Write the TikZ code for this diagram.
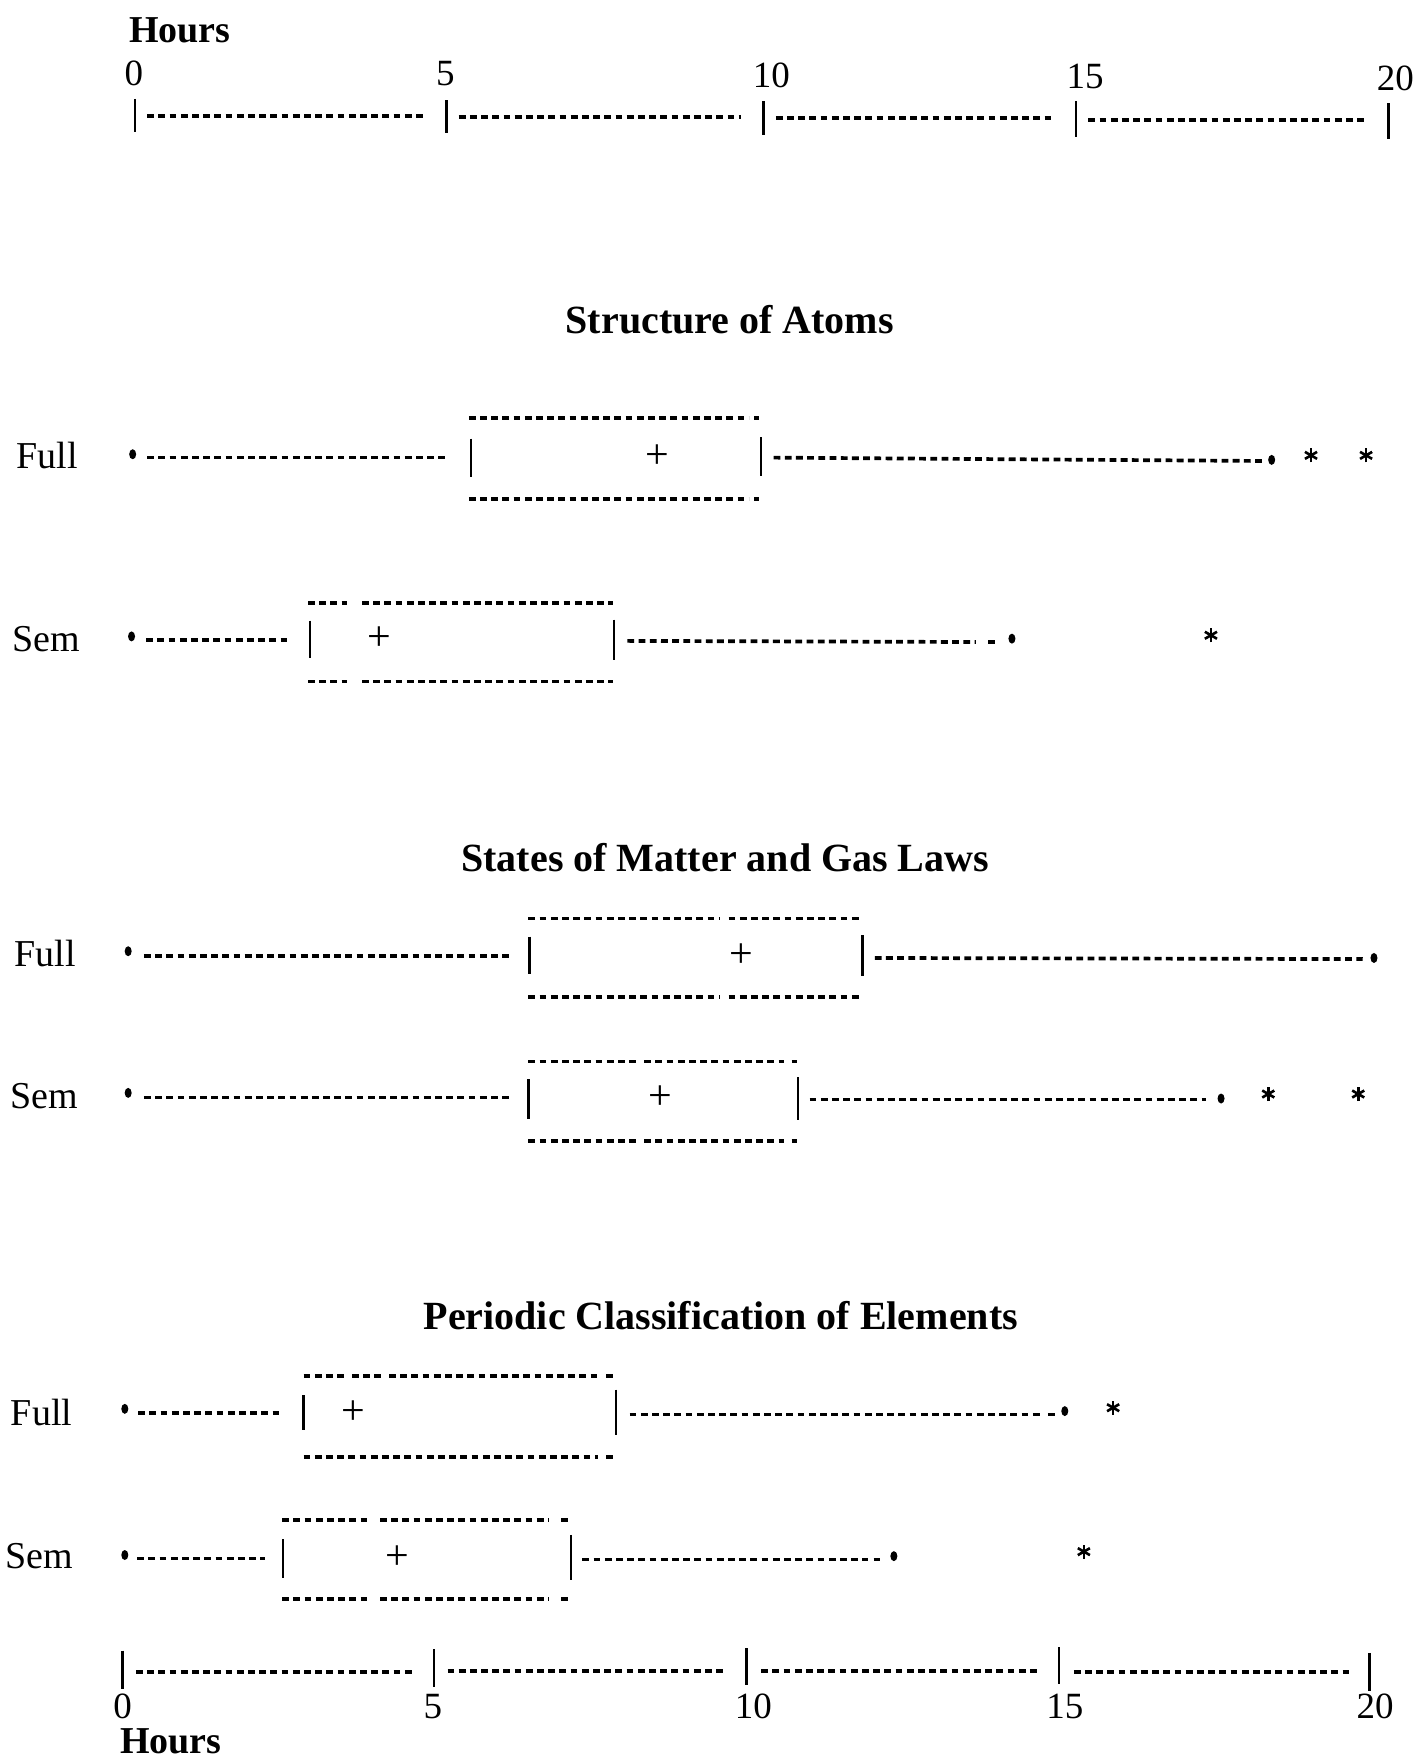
\documentclass[tikz,border=0pt]{standalone}
\usepackage{fontspec}
\setmainfont{Liberation Serif}
\usetikzlibrary{shapes.geometric}
\tikzset{
  dl/.style={line width=3.7pt, dash pattern=on 6.8pt off 4.4pt},
  bar/.style={line width=2.3pt},
  mdot/.style={ellipse, fill=black, minimum width=7pt, minimum height=10pt, inner sep=0pt},
  mstar/.style={circle, minimum size=15pt, inner sep=0pt,
    path picture={
      \draw[line width=2.6pt] ([yshift=-7pt]path picture bounding box.center) -- ([yshift=7pt]path picture bounding box.center);
      \draw[line width=2.6pt] ([shift={(30:7pt)}]path picture bounding box.center) -- ([shift={(210:7pt)}]path picture bounding box.center);
      \draw[line width=2.6pt] ([shift={(150:7pt)}]path picture bounding box.center) -- ([shift={(-30:7pt)}]path picture bounding box.center);
    }},
  mplus/.style={inner sep=0pt, font=\fontsize{42}{42}\selectfont},
  rowlab/.style={inner sep=0pt, font=\fontsize{38}{38}\selectfont},
  ticklab/.style={inner sep=0pt, font=\fontsize{37}{37}\selectfont},
  ttl/.style={inner sep=0pt, font=\fontsize{40}{40}\selectfont\bfseries},
  hrs/.style={inner sep=0pt, font=\fontsize{38}{38}\selectfont\bfseries},
}
\begin{document}
\begin{tikzpicture}[x=1.1245pt, y=-1.1245pt]
\useasboundingbox[fill=white] (0,0) rectangle (1261,1568);

% ---------------- top axis
\node[hrs] (htop) at (160,27) {Hours};
\node[ticklab] (t0) at (119,65) {0};
\node[ticklab] (t5) at (396,65) {5};
\node[ticklab] (t10) at (686,67) {10};
\node[ticklab] (t15) at (965,68) {15};
\node[ticklab] (t20) at (1241,70) {20};
\draw[bar] (120,88) -- (120,117);
\draw[bar] (397,89) -- (397,118);
\draw[bar] (679,90) -- (679,120);
\draw[bar] (957,90) -- (957,122);
\draw[bar] (1235,92) -- (1235,124);
\draw[dl] (131,103) -- (378,103);
\draw[dl] (408,104) -- (659,104);
\draw[dl] (690,105) -- (938,105);
\draw[dl] (968,107) -- (1216,107);

% ---------------- Structure of Atoms
\node[ttl] (title1) at (649,284) {Structure of Atoms};
% Full
\node[rowlab] (f1) at (42,405) {Full};
\node[mdot] (f1min) at (118,404) {};
\draw[dl] (131,407) -- (397,407);
\draw[bar] (419,390) -- (419,424);
\draw[bar] (677,389) -- (677,423);
\draw[dl] (417,372) -- (666,372);
\draw[dl] (671,372) -- (675,372);
\draw[dl] (417,444) -- (666,444);
\draw[dl] (671,444) -- (675,444);
\node[mplus] (f1med) at (585,406) {+};
\draw[dl] (688,407) -- (1124,410);
\node[mdot] (f1max) at (1131,409) {};
\node[mstar] (f1o1) at (1166,405) {};
\node[mstar] (f1o2) at (1215,405) {};
% Sem
\node[rowlab] (s1) at (41,568) {Sem};
\node[mdot] (s1min) at (117,566) {};
\draw[dl] (130,569) -- (255,569);
\draw[bar] (276,552) -- (276,585);
\draw[bar] (546,551) -- (546,587);
\draw[dl] (274,536) -- (309,536);
\draw[dl] (322,536) -- (545,536);
\draw[dl] (274,606) -- (309,606);
\draw[dl] (322,606) -- (545,606);
\node[mplus] (s1med) at (337,568) {+};
\draw[dl] (558,570) -- (868,571);
\draw[dl] (879,571) -- (886,571);
\node[mdot] (s1max) at (900,568) {};
\node[mstar] (s1o1) at (1077,565) {};

% ---------------- States of Matter and Gas Laws
\node[ttl] (title2) at (645,763) {States of Matter and Gas Laws};
% Full
\node[rowlab] (f2) at (40,848) {Full};
\node[mdot] (f2min) at (114,846) {};
\draw[dl] (128,850) -- (456,850);
\draw[bar] (471,833) -- (471,866);
\draw[bar] (767,832) -- (767,868);
\draw[dl] (470,817) -- (640,817);
\draw[dl] (648,817) -- (765,817);
\draw[dl] (470,887) -- (640,887);
\draw[dl] (648,887) -- (765,887);
\node[mplus] (f2med) at (659,850) {+};
\draw[dl] (778,852) -- (1212,853);
\node[mdot] (f2max) at (1222,852) {};
% Sem
\node[rowlab] (s2) at (39,975) {Sem};
\node[mdot] (s2min) at (114,972) {};
\draw[dl] (128,976) -- (455,976);
\draw[bar] (470,960) -- (470,995);
\draw[bar] (710,958) -- (710,996);
\draw[dl] (470,944) -- (567,944);
\draw[dl] (573,944) -- (697,944);
\draw[dl] (704,944) -- (709,944);
\draw[dl] (470,1015) -- (567,1015);
\draw[dl] (573,1015) -- (697,1015);
\draw[dl] (704,1015) -- (709,1015);
\node[mplus] (s2med) at (587,976) {+};
\draw[dl] (720,978) -- (1073,978);
\node[mdot] (s2max) at (1086,977) {};
\node[mstar] (s2o1) at (1128,973) {};
\node[mstar] (s2o2) at (1208,973) {};

% ---------------- Periodic Classification of Elements
\node[ttl] (title3) at (641,1170) {Periodic Classification of Elements};
% Full
\node[rowlab] (f3) at (37,1256) {Full};
\node[mdot] (f3min) at (111,1253) {};
\draw[dl] (123,1257) -- (249,1257);
\draw[bar] (270,1241) -- (270,1272);
\draw[bar] (548,1236) -- (548,1276);
\draw[dl] (270,1224) -- (307,1224);
\draw[dl] (313,1224) -- (340,1224);
\draw[dl] (346,1224) -- (532,1224);
\draw[dl] (539,1224) -- (545,1224);
\draw[dl] (270,1296) -- (532,1296);
\draw[dl] (539,1296) -- (545,1296);
\node[mplus] (f3med) at (314,1256) {+};
\draw[dl] (560,1258) -- (928,1258);
\draw[dl] (932,1258) -- (938,1258);
\node[mdot] (f3max) at (947,1255) {};
\node[mstar] (f3o1) at (990,1252) {};
% Sem
\node[rowlab] (s3) at (35,1384) {Sem};
\node[mdot] (s3min) at (111,1383) {};
\draw[dl] (122,1386) -- (236,1386);
\draw[bar] (252,1369) -- (252,1403);
\draw[bar] (508,1365) -- (508,1405);
\draw[dl] (251,1352) -- (328,1352);
\draw[dl] (338,1352) -- (488,1352);
\draw[dl] (499,1352) -- (505,1352);
\draw[dl] (251,1422) -- (328,1422);
\draw[dl] (338,1422) -- (488,1422);
\draw[dl] (499,1422) -- (505,1422);
\node[mplus] (s3med) at (353,1385) {+};
\draw[dl] (518,1387) -- (772,1387);
\draw[dl] (777,1387) -- (783,1387);
\node[mdot] (s3max) at (795,1384) {};
\node[mstar] (s3o1) at (964,1380) {};

% ---------------- bottom axis
\draw[bar] (109,1468) -- (109,1502);
\draw[bar] (386,1467) -- (386,1500);
\draw[bar] (664,1466) -- (664,1499);
\draw[bar] (942,1465) -- (942,1498);
\draw[bar] (1218,1470) -- (1218,1504);
\draw[dl] (121,1487) -- (367,1487);
\draw[dl] (398,1486) -- (645,1486);
\draw[dl] (677,1486) -- (922,1486);
\draw[dl] (955,1487) -- (1200,1487);
\node[ticklab] (b0) at (109,1518) {0};
\node[ticklab] (b5) at (385,1518) {5};
\node[ticklab] (b10) at (670,1518) {10};
\node[ticklab] (b15) at (947,1518) {15};
\node[ticklab] (b20) at (1223,1518) {20};
\node[hrs] (hbot) at (152,1549) {Hours};
\end{tikzpicture}
\end{document}
